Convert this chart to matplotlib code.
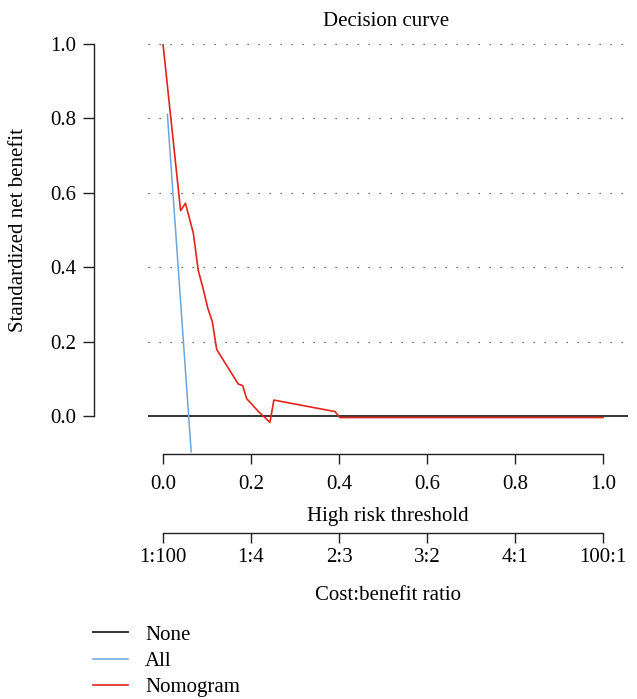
import matplotlib
matplotlib.use("Agg")
import matplotlib.pyplot as plt

# data
thr_nomogram = [0.0, 0.040, 0.051, 0.069, 0.080, 0.090, 0.102, 0.112, 0.122,
                0.171, 0.181, 0.190, 0.217, 0.243, 0.252, 0.391, 0.402, 1.0]
nb_nomogram = [1.0, 0.552, 0.572, 0.491, 0.392, 0.348, 0.289, 0.254, 0.179,
               0.086, 0.082, 0.047, 0.012, -0.017, 0.043, 0.012, -0.004, -0.004]
thr_all = [0.010, 0.064]
nb_all = [0.811, -0.096]
nb_none = 0.0

x_ticks = [0.0, 0.2, 0.4, 0.6, 0.8, 1.0]
x_ticklabels = ["0.0", "0.2", "0.4", "0.6", "0.8", "1.0"]
ratio_labels = ["1:100", "1:4", "2:3", "3:2", "4:1", "100:1"]
y_ticks = [0.0, 0.2, 0.4, 0.6, 0.8, 1.0]
y_ticklabels = ["0.0", "0.2", "0.4", "0.6", "0.8", "1.0"]

plt.rcParams['font.family'] = ['Liberation Serif', 'DejaVu Serif']
fs = 15

W, H = 637, 699
fig = plt.figure(figsize=(W / 100, H / 100), dpi=100)
# axes box in pixels: left 148, right 628, top 44, bottom 454
ax = fig.add_axes([148 / W, 1 - 454 / H, (628 - 148) / W, (454 - 44) / H])
ax.set_xlim(-0.0341, 1.0568)
ax.set_ylim(-0.102, 1.0)

# dotted grid
for g in [0.2, 0.4, 0.6, 0.8, 1.0]:
    ax.axhline(g, color='#444444', lw=0.9, dashes=(1, 7.8), zorder=1)

ax.axhline(nb_none, color='#333333', lw=1.4, label='None', zorder=2)
ax.plot(thr_all, nb_all, color='#6aa6dc', lw=1.1, label='All', zorder=3)
ax.plot(thr_nomogram, nb_nomogram, color='#e3241b', lw=1.2, label='Nomogram', zorder=4)

for s in ['top', 'right']:
    ax.spines[s].set_visible(False)
ax.spines['left'].set_position(('outward', 39.2))
ax.spines['left'].set_bounds(0, 1)
ax.spines['bottom'].set_bounds(0, 1)
for s in ['left', 'bottom']:
    ax.spines[s].set_linewidth(1.0)
    ax.spines[s].set_color('#222222')

ax.set_xticks(x_ticks)
ax.set_xticklabels(x_ticklabels)
ax.set_yticks(y_ticks)
ax.set_yticklabels(y_ticklabels)
ax.tick_params(axis='x', length=7.2, width=1.0, pad=7.6, labelsize=fs, color='#222222')
ax.tick_params(axis='y', length=8.2, width=1.0, pad=4, labelsize=fs, color='#222222')
ax.set_xlabel("High risk threshold", fontsize=fs, labelpad=9.5)

# second axis with cost:benefit ratio
sec = ax.secondary_xaxis(-0.1927)
sec.set_xticks(x_ticks)
sec.set_xticklabels(ratio_labels)
sec.spines['bottom'].set_bounds(0, 1)
sec.spines['bottom'].set_linewidth(1.0)
sec.spines['bottom'].set_color('#222222')
sec.tick_params(axis='x', length=7.2, width=1.0, pad=3.5, labelsize=fs, color='#222222')
sec.set_xlabel("Cost:benefit ratio", fontsize=fs, labelpad=13.5)

fig.text(386 / W, 1 - 22 / H, "Decision curve", fontsize=fs, ha='center', va='center')
fig.text(19 / W, 1 - 230 / H, "Standardized net benefit", fontsize=fs,
         rotation=90, ha='center', va='center')

h, l = ax.get_legend_handles_labels()
fig.legend(h, l, loc='upper left', bbox_to_anchor=(93 / W, 1 - 625 / H),
           frameon=False, fontsize=fs, handlelength=1.7, handletextpad=0.8,
           labelspacing=0.32, borderpad=0, borderaxespad=0)

fig.savefig("out.png", dpi=100)
